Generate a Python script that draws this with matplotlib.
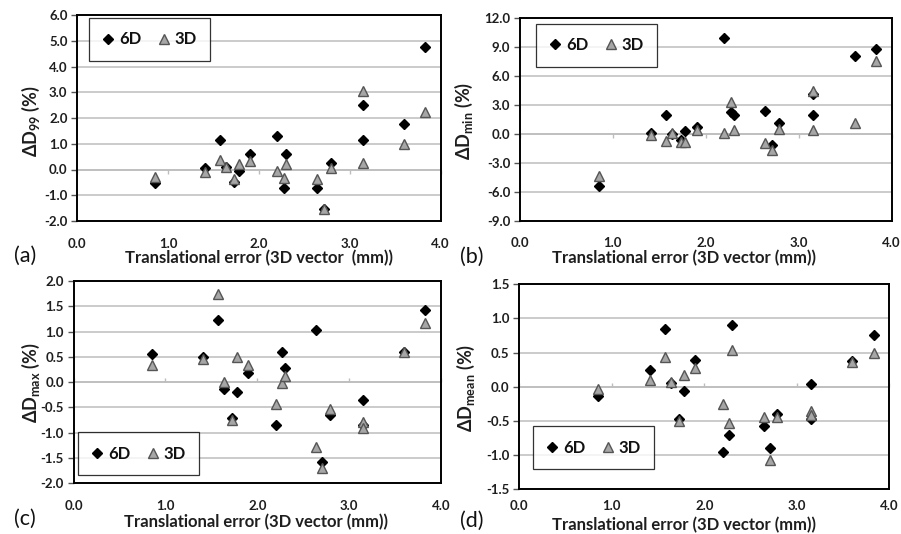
import numpy as np
import matplotlib
matplotlib.use("Agg")
import matplotlib.pyplot as plt
from matplotlib.ticker import FormatStrFormatter

plt.rcParams['font.family'] = ['Lato', 'DejaVu Sans']
plt.rcParams['axes.unicode_minus'] = False

# Translational set-up error per patient (3D vector, mm)
translation_err = [0.85, 1.41, 1.57, 1.64, 1.73, 1.78, 1.90, 2.20, 2.27, 2.30,
                   2.64, 2.71, 2.79, 3.15, 3.15, 3.60, 3.83]

# Dose differences (%) after 6D and 3D correction
d99_6d = [-0.52, 0.05, 1.13, 0.08, -0.50, -0.04, 0.62, 1.32, -0.72, 0.62,
          -0.72, -1.52, 0.24, 2.50, 1.13, 1.76, 4.75]
d99_3d = [-0.30, -0.10, 0.38, 0.10, -0.37, 0.22, 0.32, -0.06, -0.32, 0.23,
          -0.38, -1.52, 0.05, 3.05, 0.27, 0.98, 2.25]

dmin_6d = [-5.40, 0.15, 2.00, 0.00, -0.60, 0.35, 0.75, 10.00, 2.31, 1.95,
           2.35, -1.15, 1.15, 4.15, 2.00, 8.05, 8.80]
dmin_3d = [-4.40, -0.10, -0.70, 0.05, -0.80, -0.80, 0.40, 0.15, 3.30, 0.45,
           -0.90, -1.65, 0.55, 4.45, 0.40, 1.15, 7.55]

dmax_6d = [0.55, 0.50, 1.22, -0.14, -0.70, -0.20, 0.19, -0.84, 0.60, 0.28,
           1.04, -1.57, -0.64, -0.36, -0.84, 0.60, 1.43]
dmax_3d = [0.34, 0.46, 1.75, 0.00, -0.74, 0.49, 0.33, -0.43, -0.01, 0.13,
           -1.28, -1.69, -0.53, -0.78, -0.91, 0.60, 1.16]

dmean_6d = [-0.13, 0.25, 0.85, 0.05, -0.48, -0.07, 0.39, -0.96, -0.71, 0.91,
            -0.57, -0.90, -0.40, 0.04, -0.47, 0.38, 0.76]
dmean_3d = [-0.03, 0.10, 0.44, 0.07, -0.50, 0.17, 0.28, -0.26, -0.54, 0.53,
            -0.45, -1.07, -0.44, -0.36, -0.42, 0.36, 0.49]

x_ticks = [0.0, 1.0, 2.0, 3.0, 4.0]
y_ticks_d99 = [-2.0, -1.0, 0.0, 1.0, 2.0, 3.0, 4.0, 5.0, 6.0]
y_ticks_dmin = [-9.0, -6.0, -3.0, 0.0, 3.0, 6.0, 9.0, 12.0]
y_ticks_dmax = [-2.0, -1.5, -1.0, -0.5, 0.0, 0.5, 1.0, 1.5, 2.0]
y_ticks_dmean = [-1.5, -1.0, -0.5, 0.0, 0.5, 1.0, 1.5]

W, H = 901, 534
fig = plt.figure(figsize=(W / 100, H / 100), dpi=100)
fig.patch.set_facecolor('white')


def px_rect(l, t, r, b):
    return [l / W, 1 - b / H, (r - l) / W, (b - t) / H]


def fig_text(x, y, s, **kw):
    fig.text(x / W, 1 - y / H, s, **kw)


GRID = '#bdbdbd'
TRI_FACE = '#a6a6a6'
TRI_EDGE = '#555555'
TEXT = '#1e1e1e'

panels = [
    dict(rect=(77.3, 15, 440.7, 221), y6=d99_6d, y3=d99_3d, yt=y_ticks_d99,
         ylabel='ΔD$_{\\mathregular{99}}$ (%)', ylab_xy=(31, 121),
         xlabel='Translational error (3D vector  (mm))', xlab_xy=(259, 258), xpad=12,
         tag='(a)', tag_xy=(25, 256), leg_loc='upper left', leg_anchor=(0.032, 0.985)),
    dict(rect=(520, 18.3, 891.7, 220.7), y6=dmin_6d, y3=dmin_3d, yt=y_ticks_dmin,
         ylabel='ΔD$_{\\mathregular{min}}$ (%)', ylab_xy=(464, 121),
         xlabel='Translational error (3D vector (mm))', xlab_xy=(684, 258), xpad=12,
         tag='(b)', tag_xy=(472, 257), leg_loc='upper left', leg_anchor=(0.043, 0.972)),
    dict(rect=(73.5, 281, 441, 483.3), y6=dmax_6d, y3=dmax_3d, yt=y_ticks_dmax,
         ylabel='ΔD$_{\\mathregular{max}}$ (%)', ylab_xy=(31, 383),
         xlabel='Translational error (3D vector (mm))', xlab_xy=(256, 522), xpad=12,
         tag='(c)', tag_xy=(25, 519), leg_loc='lower left', leg_anchor=(0.012, 0.041)),
    dict(rect=(519.3, 284.3, 889.3, 489), y6=dmean_6d, y3=dmean_3d, yt=y_ticks_dmean,
         ylabel='ΔD$_{\\mathregular{mean}}$ (%)', ylab_xy=(466, 388),
         xlabel='Translational error (3D vector (mm))', xlab_xy=(684, 525), xpad=8,
         tag='(d)', tag_xy=(472, 521), leg_loc='lower left', leg_anchor=(0.037, 0.098)),
]

for p in panels:
    ax = fig.add_axes(px_rect(*p['rect']))
    yt = p['yt']
    ax.set_xlim(x_ticks[0], x_ticks[-1])
    ax.set_ylim(yt[0], yt[-1])
    ax.set_xticks(x_ticks)
    ax.set_yticks(yt)
    ax.xaxis.set_major_formatter(FormatStrFormatter('%.1f'))
    ax.yaxis.set_major_formatter(FormatStrFormatter('%.1f'))
    ax.yaxis.grid(True, color=GRID, linewidth=1.1)
    ax.set_axisbelow(True)
    for s in ax.spines.values():
        s.set_color('black')
        s.set_linewidth(1.4)
    ax.tick_params(axis='x', length=0, pad=p['xpad'], labelsize=9.5, labelcolor=TEXT)
    ax.tick_params(axis='y', length=4, width=1, color='#555555', direction='out',
                   pad=3, labelsize=9.5, labelcolor=TEXT)
    for lab in ax.get_xticklabels() + ax.get_yticklabels():
        lab.set_fontweight('bold')

    # horizontal axis line crossing at zero, with its own tick marks
    zero_pos = (0 - yt[0]) / (yt[-1] - yt[0])
    sec = ax.secondary_xaxis(zero_pos)
    sec.set_xticks(x_ticks)
    sec.tick_params(axis='x', length=3, width=1, color=GRID, direction='out',
                    labelbottom=False, labeltop=False)
    for s in sec.spines.values():
        s.set_color(GRID)
        s.set_linewidth(1.1)

    h6, = ax.plot(translation_err, p['y6'], linestyle='none', marker='D',
                  markersize=5.3, color='black', zorder=3, label='6D')
    h3, = ax.plot(translation_err, p['y3'], linestyle='none', marker='^',
                  markersize=7.8, markerfacecolor=TRI_FACE, markeredgecolor=TRI_EDGE,
                  markeredgewidth=1.0, zorder=4, label='3D')

    leg = ax.legend(handles=[h6, h3], loc=p['leg_loc'], bbox_to_anchor=p['leg_anchor'],
                    ncol=2, frameon=True, fancybox=False, borderaxespad=0,
                    borderpad=0.8, handlelength=0.7, handletextpad=0.3,
                    columnspacing=1.0, prop={'size': 12, 'weight': 'bold'})
    leg.get_frame().set_edgecolor('black')
    leg.get_frame().set_linewidth(0.9)
    for t in leg.get_texts():
        t.set_color('#111111')

    fig_text(*p['ylab_xy'], p['ylabel'], rotation=90, ha='center', va='center',
             fontsize=13, fontweight='bold', color=TEXT)
    fig_text(*p['xlab_xy'], p['xlabel'], ha='center', va='center',
             fontsize=12, fontweight='bold', color=TEXT)
    fig_text(*p['tag_xy'], p['tag'], ha='center', va='center',
             fontsize=15.5, color='#111111')

fig.savefig('out.png', dpi=100, facecolor='white')
